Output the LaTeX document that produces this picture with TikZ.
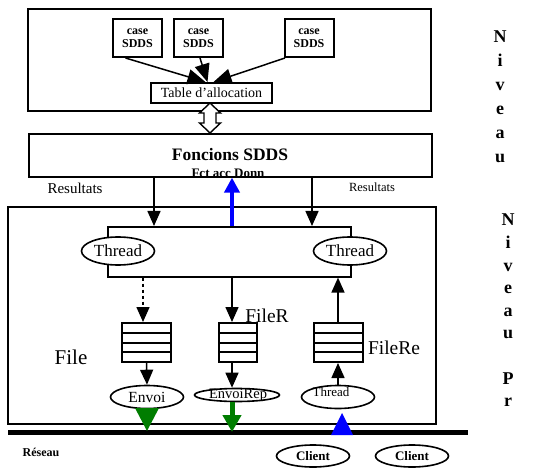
\documentclass[tikz,border=0pt]{standalone}
\usepackage{fontspec}
\setmainfont{Liberation Serif}
\usetikzlibrary{arrows.meta,shapes.geometric,calc}

\tikzset{
  box/.style={draw, line width=1.6pt, rectangle, inner sep=0pt},
  casebox/.style={box, line width=2pt, minimum width=49pt, minimum height=38pt,
    font=\bfseries\fontsize{12}{13}\selectfont, align=center},
  thr/.style={ellipse, draw, line width=1.6pt, fill=white, inner sep=0pt,
    minimum width=73pt, minimum height=28pt, font=\fontsize{17}{18}\selectfont},
  arr/.style={line width=1.5pt, -{Triangle[width=13pt,length=15pt]}},
  queue/.style={draw, line width=2pt, minimum height=39pt, inner sep=0pt,
    path picture={\foreach \f in {0.25,0.5,0.75}{
      \draw[line width=2pt]
        ($(path picture bounding box.north west)!\f!(path picture bounding box.south west)$) --
        ($(path picture bounding box.north east)!\f!(path picture bounding box.south east)$);}}},
  niv/.style={font=\bfseries\fontsize{18}{24}\selectfont, align=center},
}
\definecolor{vert}{RGB}{0,125,0}

\begin{document}
\begin{tikzpicture}[x=1pt, y=-1pt]
  \useasboundingbox (0,0) rectangle (548,470);

  % niveau haut
  \draw[line width=1.6pt] (28,9) rectangle (431,111);
  \node[casebox] (c1) at (137.5,38) {case\\SDDS};
  \node[casebox] (c2) at (198.5,38) {case\\SDDS};
  \node[casebox] (c3) at (309,38) {case\\SDDS};
  \node[box, minimum width=121pt, minimum height=20pt, line width=2pt,
    font=\fontsize{14}{15}\selectfont] (tab) at (211.5,93) {Table d'allocation};
  \draw[arr, -{Triangle[width=15pt,length=18pt]}] ([xshift=-12pt]c1.south) -- ([xshift=-6pt]tab.north);
  \draw[arr, -{Triangle[width=15pt,length=18pt]}] ([xshift=1.5pt]c2.south) -- ([xshift=-4pt]tab.north);
  \draw[arr, -{Triangle[width=15pt,length=18pt]}] ([xshift=-24pt]c3.south) -- ([xshift=2pt]tab.north);

  % fonctions SDDS
  \node[box, minimum width=403pt, minimum height=43pt, anchor=north west] (fonc) at (28,133) {};
  \node[font=\bfseries\fontsize{17.5}{18}\selectfont] (fonct) at (230,155) {Foncions SDDS};
  \begin{scope}
    \clip (fonc.north west) rectangle (fonc.south east);
    \node[font=\bfseries\fontsize{13}{13}\selectfont, anchor=base] (fct) at (228,178) {Fct acc Donn};
  \end{scope}
  \draw[line width=1.6pt] (fonc.south west) -- (fonc.south east);

  % double fleche creuse
  \draw[line width=1.4pt, fill=white]
    (210,103) -- (220.5,113) -- (216,113) -- (216,123) -- (220.5,123) -- (210,133)
    -- (199.5,123) -- (204,123) -- (204,113) -- (199.5,113) -- cycle;

  \node[font=\fontsize{15}{16}\selectfont] (res1) at (75,188) {Resultats};
  \node[font=\fontsize{12.5}{13}\selectfont] (res2) at (372,187) {Resultats};

  % niveau serveur
  \draw[line width=1.6pt] (8,207) rectangle (436,424);
  \node[box, minimum width=243pt, minimum height=50pt, anchor=north west] (thbox) at (107,226) {};
  \node[thr] (th1) at (118,251) {Thread};
  \node[thr] (th2) at (350,251) {Thread};
  \draw[arr] (fonc.south -| 154,0) -- (thbox.north -| 154,0);
  \draw[arr] (fonc.south -| 312,0) -- (thbox.north -| 312,0);
  \draw[blue, line width=4pt, -{Triangle[width=15pt,length=15pt]}]
    (thbox.north -| 232,0) -- (fonc.south -| 232,0);

  % files
  \node[queue, minimum width=49pt] (q1) at (146.5,342.5) {};
  \node[queue, minimum width=38pt] (q2) at (238,342.5) {};
  \node[queue, minimum width=49pt] (q3) at (338,342.5) {};
  \draw[arr, dashed] (thbox.south -| 143,0) -- (q1.north -| 143,0);
  \draw[arr] (thbox.south -| 232,0) -- (q2.north -| 232,0);
  \draw[arr] (q3.north) -- (thbox.south -| q3.north);

  \node[font=\fontsize{21}{22}\selectfont] (lf) at (71,357) {File};
  \node[font=\fontsize{19.5}{20}\selectfont] (lfr) at (267,316) {FileR};
  \node[font=\fontsize{19.5}{20}\selectfont] (lfre) at (394,348) {FileRe};

  % envoi
  \node[thr, minimum height=23pt, font=\fontsize{15.5}{16}\selectfont] (env) at (147,397) {Envoi};
  \node[ellipse, draw, line width=1.6pt, inner sep=0pt, minimum width=85pt, minimum height=13pt] (envr) at (237,395) {};
  \node[font=\fontsize{14.5}{15}\selectfont] (envrt) at (238,395) {EnvoiRep};
  \node[thr, minimum height=23pt] (th3) at (338,397) {};
  \node[font=\fontsize{13}{14}\selectfont] (th3t) at (331,392) {Thread};
  \draw[arr] (q1.south) -- (env.north);
  \draw[arr] (q2.south -| 232,0) -- (envr.north -| 232,0);
  \draw[arr] (th3.north) -- (q3.south);

  % reseau
  \coordinate (netL) at (8,432);
  \coordinate (netR) at (468,432);
  \draw[line width=5pt] (netL) -- (netR);
  \node[font=\bfseries\fontsize{12}{13}\selectfont] (res) at (41,452) {Réseau};
  \fill[vert] (135,408) -- (159,408) -- (147,431) -- cycle;
  \draw[vert, line width=5pt, -{Triangle[width=18pt,length=17pt]}]
    (envr.south -| 232,0) -- (netL -| 232,0);
  \fill[blue] (331,435) -- (353,435) -- (342,413) -- cycle;

  \node[thr, minimum height=22pt, font=\bfseries\fontsize{13}{14}\selectfont] (cl1) at (313,456) {Client};
  \node[thr, minimum height=22pt, font=\bfseries\fontsize{13}{14}\selectfont] (cl2) at (412,456) {Client};

  % niveaux
  \node[niv] (niv1) at (500,97) {N\\i\\v\\e\\a\\u};
  \node[niv, font=\bfseries\fontsize{18}{22.6}\selectfont] (niv2) at (508,310.5) {N\\i\\v\\e\\a\\u\\[22.6pt]P\\r};
\end{tikzpicture}
\end{document}
